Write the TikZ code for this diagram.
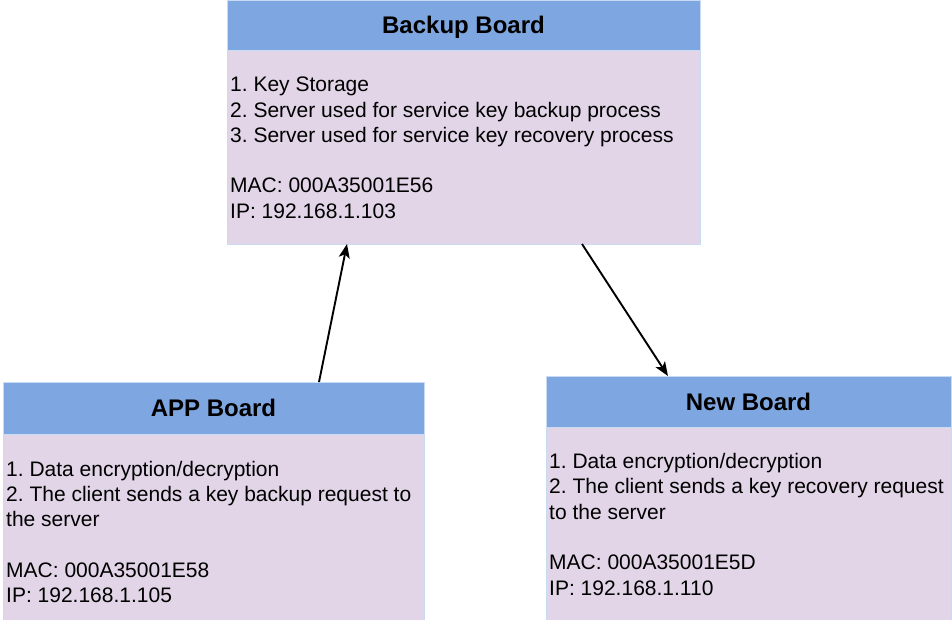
\documentclass[tikz,border=0pt]{standalone}
\usepackage{fontspec}
\setmainfont{Liberation Sans}
\usetikzlibrary{calc,arrows.meta}
\definecolor{headblue}{HTML}{7EA6E0}
\definecolor{bodypurple}{HTML}{E1D5E7}
\definecolor{edgeblue}{HTML}{C9DBF3}
\frenchspacing
\tikzset{
  board/.style={draw=edgeblue, line width=1pt, fill=bodypurple, rectangle, inner sep=0pt, outer sep=0pt},
  head/.style={draw=edgeblue, line width=1pt, fill=headblue, rectangle, inner sep=0pt, outer sep=0pt},
  title/.style={font=\fontsize{24}{28}\selectfont\bfseries, inner sep=0pt},
  bodytext/.style={font=\fontsize{21}{25.3}\selectfont, align=left, inner sep=0pt},
  arr/.style={-{Stealth[length=14pt,width=11pt,inset=3.5pt]}, line width=1.9pt, black}
}
\begin{document}
\begin{tikzpicture}[x=1pt,y=-1pt]
\useasboundingbox (0,0) rectangle (952,619);
\fill[white] (0,0) rectangle (952,619);

% Backup Board
\node[board, minimum width=473pt, minimum height=244pt, anchor=north west] (backup) at (227,0) {};
\node[head, minimum width=473pt, minimum height=50pt, anchor=north west] (backuphead) at (backup.north west) {};
\node[title, anchor=base] (backuptitle) at ($(backuphead.north)+(0,33.7)$) {Backup Board};
\node[bodytext, anchor=north west] (backuptext) at ($(backup.north west)+(3,73.8)$) {\strut 1. Key Storage\\2. Server used for service key backup process\\3. Server used for service key recovery process\\\strut\\MAC: 000A35001E56\\IP: 192.168.1.103};

% APP Board
\node[board, minimum width=421pt, minimum height=245pt, anchor=north west] (app) at (3,382) {};
\node[head, minimum width=421pt, minimum height=52pt, anchor=north west] (apphead) at (app.north west) {};
\node[title, anchor=base] (apptitle) at ($(apphead.north)+(0,34.7)$) {APP Board};
\node[bodytext, anchor=north west] (apptext) at ($(app.north west)+(3,76.3)$) {\strut 1. Data encryption/decryption\\2. The client sends a key backup request to\\the server\\\strut\\MAC: 000A35001E58\\IP: 192.168.1.105};

% New Board
\node[board, minimum width=405pt, minimum height=250pt, anchor=north west] (new) at (546,376) {};
\node[head, minimum width=405pt, minimum height=51pt, anchor=north west] (newhead) at (new.north west) {};
\node[title, anchor=base] (newtitle) at ($(newhead.north)+(0,34)$) {New Board};
\node[bodytext, anchor=north west] (newtext) at ($(new.north west)+(3,74.6)$) {\strut 1. Data encryption/decryption\\2. The client sends a key recovery request\\to the server\\\strut\\MAC: 000A35001E5D\\IP: 192.168.1.110};

% Connectors
\draw[arr] ([xshift=105.5pt]app.north) -- ([xshift=-116.5pt]backup.south);
\draw[arr] ([xshift=118.5pt]backup.south) -- ([xshift=-80.5pt]new.north);
\end{tikzpicture}
\end{document}
